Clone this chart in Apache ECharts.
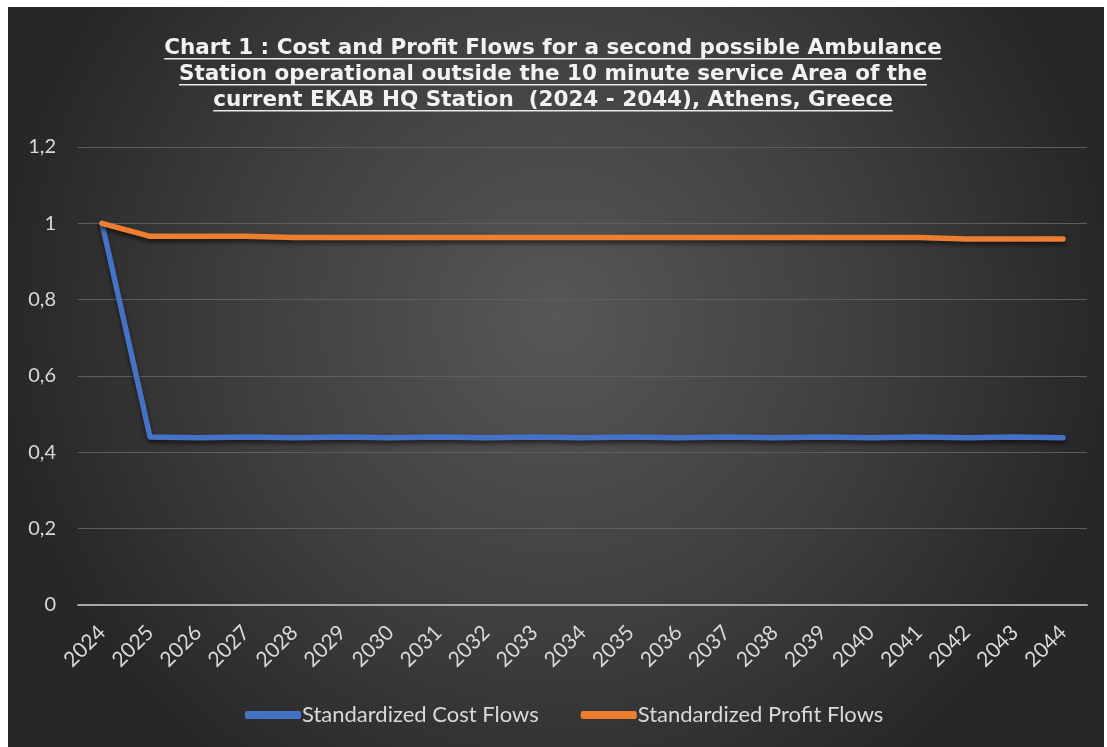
<!DOCTYPE html>
<html>
<head>
<meta charset="utf-8">
<script src="https://cdn.jsdelivr.net/npm/echarts@6/dist/echarts.min.js"></script>
<style>
html,body{margin:0;padding:0;background:#fff;width:1107px;height:747px;overflow:hidden;}
#chart{position:absolute;left:8px;top:7px;width:1096px;height:740px;}
</style>
</head>
<body>
<div id="chart"></div>
<script>
const years = ['2024','2025','2026','2027','2028','2029','2030','2031','2032','2033','2034','2035','2036','2037','2038','2039','2040','2041','2042','2043','2044'];
const costFlows = [1, 0.44, 0.438, 0.44, 0.438, 0.44, 0.438, 0.44, 0.438, 0.44, 0.438, 0.44, 0.438, 0.44, 0.438, 0.44, 0.438, 0.44, 0.438, 0.44, 0.438];
const profitFlows = [1, 0.966, 0.966, 0.966, 0.963, 0.963, 0.963, 0.963, 0.963, 0.963, 0.963, 0.963, 0.963, 0.963, 0.963, 0.963, 0.963, 0.963, 0.959, 0.959, 0.959];
const seriesNames = ['Standardized Cost Flows', 'Standardized Profit Flows'];
const titleLines = [
  'Chart 1 : Cost and Profit Flows for a second possible Ambulance',
  'Station operational outside the 10 minute service Area of the',
  'current EKAB HQ Station  (2024 - 2044), Athens, Greece'
];
const yTicks = [0, 0.2, 0.4, 0.6, 0.8, 1, 1.2];

const chart = echarts.init(document.getElementById('chart'));
const titleFont = 'bold 21.5px "DejaVu Sans"';
const titleCx = 545;
const titleY0 = 41;
const titleEls = [];
titleLines.forEach((t, i) => {
  const y = titleY0 + i * 26;
  titleEls.push({
    type: 'text', x: titleCx, y: y,
    style: { text: t, font: titleFont, fill: '#f2f2f2', textAlign: 'center', textVerticalAlign: 'middle' },
    z: 10
  });
});
const ctx = document.createElement('canvas').getContext('2d');
ctx.font = titleFont;
titleLines.forEach((t, i) => {
  const w = ctx.measureText(t).width;
  const y = titleY0 + i * 26 + 10;
  titleEls.push({ type: 'rect', shape: { x: titleCx - w / 2, y: y, width: w, height: 1.5 }, style: { fill: '#e8e8e8' }, z: 10 });
});

const option = {
  backgroundColor: {
    type: 'radial', x: 0.5, y: 0.42, r: 0.75,
    colorStops: [{offset: 0, color: '#575757'}, {offset: 0.55, color: '#3f3f3f'}, {offset: 1, color: '#272727'}]
  },
  graphic: titleEls,
  legend: {
    bottom: 16, left: 232,
    itemWidth: 56, itemHeight: 8, itemGap: 42,
    icon: 'roundRect',
    textStyle: { color: '#d9d9d9', fontSize: 22, fontFamily: 'Lato', padding: [0,0,0,-4] },
    data: seriesNames
  },
  grid: { left: 70, right: 17, top: 140, bottom: 142, containLabel: false },
  xAxis: {
    type: 'category', data: years, boundaryGap: true,
    axisLine: { lineStyle: { color: '#a6a6a6', width: 2 } },
    axisTick: { show: false },
    axisLabel: { color: '#d9d9d9', fontSize: 21, fontFamily: 'Lato', rotate: 45, margin: 24, interval: 0 }
  },
  yAxis: {
    type: 'value', min: 0, max: 1.2, interval: 0.2,
    axisLine: { show: false }, axisTick: { show: false },
    axisLabel: { color: '#d9d9d9', fontSize: 20, fontFamily: 'Lato', margin: 22,
      formatter: v => { const t = yTicks.find(x => Math.abs(x - v) < 1e-9); return String(Math.round((t === undefined ? v : t) * 10) / 10).replace('.', ','); } },
    splitLine: { lineStyle: { color: '#5e5e5e', width: 1 } }
  },
  series: [
    { name: seriesNames[0], type: 'line', data: costFlows, symbol: 'none', color: '#4472C4',
      lineStyle: { width: 5.5, color: '#4472C4', cap: 'round', join: 'round', shadowColor: 'rgba(0,0,0,0.6)', shadowBlur: 4, shadowOffsetY: 3 } },
    { name: seriesNames[1], type: 'line', data: profitFlows, symbol: 'none', color: '#ED7D31',
      lineStyle: { width: 5.5, color: '#ED7D31', cap: 'round', join: 'round', shadowColor: 'rgba(0,0,0,0.6)', shadowBlur: 4, shadowOffsetY: 3 } }
  ],
  animation: false
};
chart.setOption(option);
</script>
</body>
</html>
